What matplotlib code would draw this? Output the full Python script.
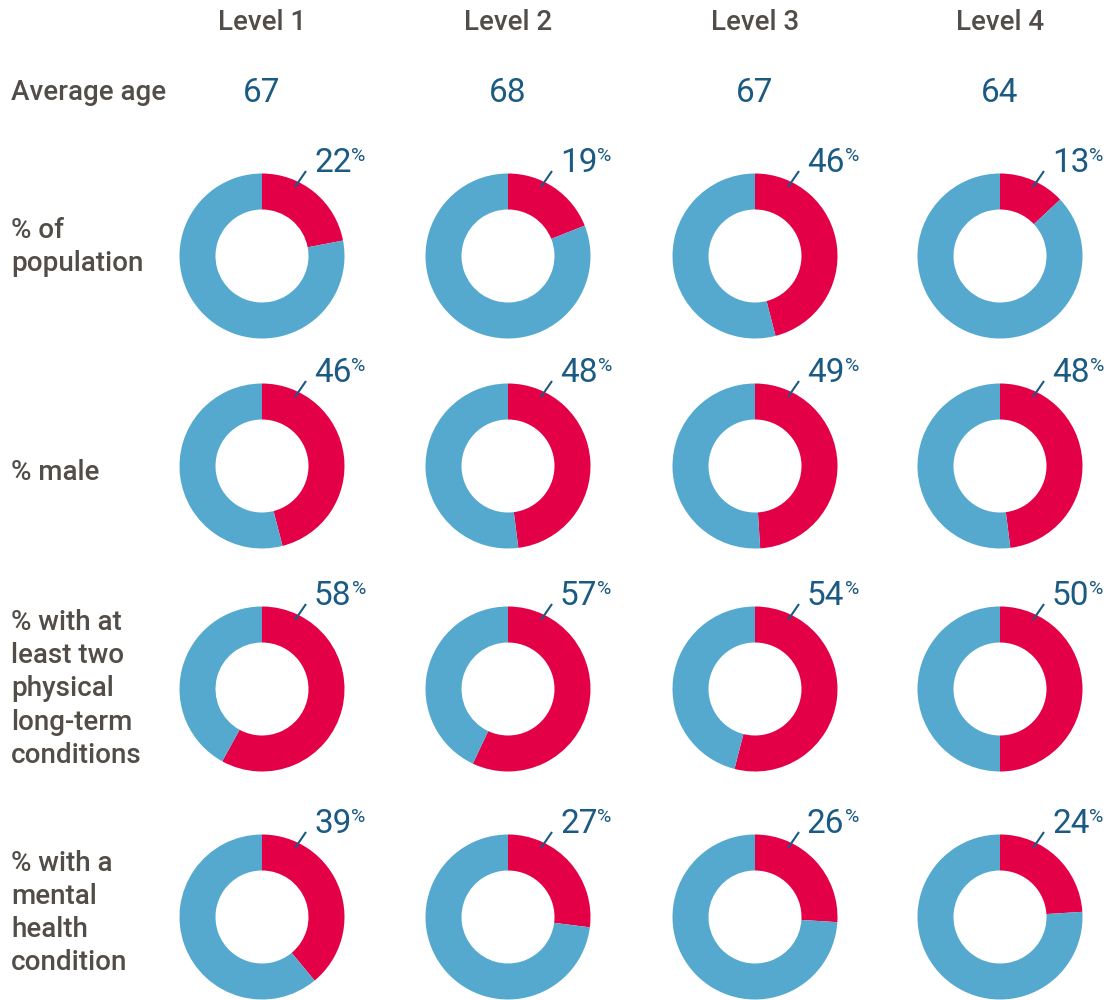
import matplotlib.pyplot as plt

# donut grid: share of each level (red) vs. rest (blue)
levels = ["Level 1", "Level 2", "Level 3", "Level 4"]
avg_age = [67, 68, 67, 64]
row_labels = ["% of\npopulation",
              "% male",
              "% with at\nleast two\nphysical\nlong-term\nconditions",
              "% with a\nmental\nhealth\ncondition"]
pct_population = [22, 19, 46, 13]
pct_male = [46, 48, 49, 48]
pct_two_ltc = [58, 57, 54, 50]
pct_mental = [39, 27, 26, 24]
rows = [pct_population, pct_male, pct_two_ltc, pct_mental]

RED = "#e40046"
BLUE = "#55a9cf"
GREY = "#524d48"
NAVY = "#1b5a82"

W, H = 1106, 1000
col_x = [262, 508, 755, 1000]
row_y = [256, 466, 689, 917]
label_y = [247, 473, 689, 913]
R_OUT, R_IN = 82.5, 46.5

fig = plt.figure(figsize=(W / 100, H / 100), dpi=100)
ax = fig.add_axes([0, 0, 1, 1])

bold = dict(family=["Roboto", "DejaVu Sans"], weight="medium", color=GREY)
light = dict(family=["Roboto", "DejaVu Sans"], weight="normal", color=NAVY)

for x, lev in zip(col_x, levels):
    ax.text(x, H - 22, lev, ha="center", va="center", fontsize=20, **bold)
ax.text(11, H - 93, "Average age", ha="left", va="center", fontsize=20, **bold)
for x, age in zip(col_x, avg_age):
    ax.text(x, H - 93, str(age), ha="center", va="center", fontsize=24, **light)

for ly, lab in zip(label_y, row_labels):
    ax.text(11, H - ly, lab, ha="left", va="center", fontsize=20,
            linespacing=1.30, **bold)

for vals, cy in zip(rows, row_y):
    for v, cx in zip(vals, col_x):
        ax.pie([v, 100 - v], colors=[RED, BLUE], startangle=90,
               counterclock=False, radius=R_OUT, center=(cx, H - cy),
               wedgeprops=dict(width=R_OUT - R_IN, edgecolor="none"))
        # leader tick and value label
        ax.plot([cx + 33, cx + 44], [H - cy + 69, H - cy + 85],
                color=NAVY, lw=1.5, solid_capstyle="butt")
        t = ax.text(cx + 52, H - cy + 84, str(v), ha="left", va="baseline",
                    fontsize=24, **light)
        ax.annotate("%", xy=(1, 1), xycoords=t, xytext=(0, 0),
                    textcoords="offset points", ha="left", va="top",
                    fontsize=14, **light)

ax.set_xlim(0, W)
ax.set_ylim(0, H)
ax.set_aspect("equal")
ax.axis("off")
fig.savefig("out.png", dpi=100)
